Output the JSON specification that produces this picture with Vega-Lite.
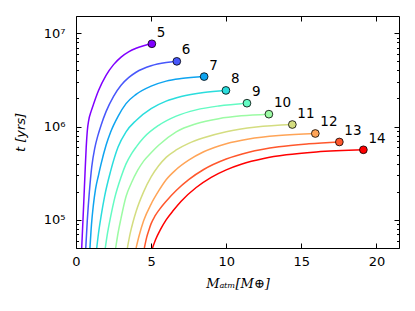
{
  "$schema": "https://vega.github.io/schema/vega-lite/v6.json",
  "width": 323,
  "height": 232,
  "autosize": "none",
  "padding": {"left": 76, "top": 16, "right": 16, "bottom": 63},
  "config": {
    "font": "DejaVu Sans",
    "view": {"stroke": "black", "strokeWidth": 1},
    "axis": {"grid": false, "domain": false, "tickColor": "black", "labelColor": "black", "titleColor": "black", "labelFontSize": 13, "labelFont": "DejaVu Sans"}
  },
  "datasets": {
    "curves": [
      {"curve": 5, "M": 0.38, "t": 50000}, {"curve": 5, "M": 0.45, "t": 89100}, {"curve": 5, "M": 0.52, "t": 158500}, {"curve": 5, "M": 0.6, "t": 316200}, {"curve": 5, "M": 0.68, "t": 602600}, {"curve": 5, "M": 0.75, "t": 891300}, {"curve": 5, "M": 0.85, "t": 1175000}, {"curve": 5, "M": 1.0, "t": 1445000}, {"curve": 5, "M": 1.2, "t": 1800000}, {"curve": 5, "M": 1.5, "t": 2430000}, {"curve": 5, "M": 2.0, "t": 3540000}, {"curve": 5, "M": 2.5, "t": 4610000}, {"curve": 5, "M": 3.0, "t": 5550000}, {"curve": 5, "M": 3.5, "t": 6310000}, {"curve": 5, "M": 4.0, "t": 6900000}, {"curve": 5, "M": 4.5, "t": 7350000}, {"curve": 5, "M": 5.05, "t": 7710000},
      {"curve": 6, "M": 0.65, "t": 50000}, {"curve": 6, "M": 0.75, "t": 97700}, {"curve": 6, "M": 0.89, "t": 200000}, {"curve": 6, "M": 1.05, "t": 372000}, {"curve": 6, "M": 1.25, "t": 589000}, {"curve": 6, "M": 1.45, "t": 794000}, {"curve": 6, "M": 1.67, "t": 1035000}, {"curve": 6, "M": 2.0, "t": 1445000}, {"curve": 6, "M": 2.5, "t": 2110000}, {"curve": 6, "M": 3.0, "t": 2770000}, {"curve": 6, "M": 3.5, "t": 3340000}, {"curve": 6, "M": 4.0, "t": 3820000}, {"curve": 6, "M": 5.0, "t": 4480000}, {"curve": 6, "M": 6.0, "t": 4850000}, {"curve": 6, "M": 6.71, "t": 5000000},
      {"curve": 7, "M": 0.93, "t": 50000}, {"curve": 7, "M": 1.03, "t": 89100}, {"curve": 7, "M": 1.15, "t": 141300}, {"curve": 7, "M": 1.3, "t": 213800}, {"curve": 7, "M": 1.5, "t": 302000}, {"curve": 7, "M": 1.67, "t": 398000}, {"curve": 7, "M": 2.0, "t": 631000}, {"curve": 7, "M": 2.3, "t": 871000}, {"curve": 7, "M": 2.8, "t": 1288000}, {"curve": 7, "M": 3.33, "t": 1762000}, {"curve": 7, "M": 4.0, "t": 2213000}, {"curve": 7, "M": 5.0, "t": 2710000}, {"curve": 7, "M": 6.0, "t": 3070000}, {"curve": 7, "M": 7.0, "t": 3270000}, {"curve": 7, "M": 8.53, "t": 3430000},
      {"curve": 8, "M": 1.38, "t": 50000}, {"curve": 8, "M": 1.5, "t": 72400}, {"curve": 8, "M": 1.67, "t": 109600}, {"curve": 8, "M": 1.9, "t": 177800}, {"curve": 8, "M": 2.3, "t": 331000}, {"curve": 8, "M": 2.8, "t": 603000}, {"curve": 8, "M": 3.33, "t": 879000}, {"curve": 8, "M": 4.0, "t": 1164000}, {"curve": 8, "M": 5.0, "t": 1556000}, {"curve": 8, "M": 6.0, "t": 1871000}, {"curve": 8, "M": 7.0, "t": 2100000}, {"curve": 8, "M": 8.5, "t": 2320000}, {"curve": 8, "M": 9.98, "t": 2440000},
      {"curve": 9, "M": 1.95, "t": 50000}, {"curve": 9, "M": 2.1, "t": 72400}, {"curve": 9, "M": 2.3, "t": 107200}, {"curve": 9, "M": 2.6, "t": 177800}, {"curve": 9, "M": 3.0, "t": 288400}, {"curve": 9, "M": 3.33, "t": 398000}, {"curve": 9, "M": 3.7, "t": 513000}, {"curve": 9, "M": 4.0, "t": 603000}, {"curve": 9, "M": 4.5, "t": 759000}, {"curve": 9, "M": 5.5, "t": 1030000}, {"curve": 9, "M": 6.67, "t": 1294000}, {"curve": 9, "M": 8.0, "t": 1510000}, {"curve": 9, "M": 9.5, "t": 1663000}, {"curve": 9, "M": 11.38, "t": 1780000},
      {"curve": 10, "M": 2.64, "t": 50000}, {"curve": 10, "M": 2.8, "t": 72400}, {"curve": 10, "M": 3.0, "t": 104700}, {"curve": 10, "M": 3.33, "t": 177800}, {"curve": 10, "M": 3.7, "t": 251200}, {"curve": 10, "M": 4.1, "t": 338800}, {"curve": 10, "M": 4.5, "t": 426600}, {"curve": 10, "M": 5.0, "t": 524800}, {"curve": 10, "M": 5.5, "t": 631000}, {"curve": 10, "M": 6.67, "t": 879000}, {"curve": 10, "M": 8.0, "t": 1072000}, {"curve": 10, "M": 9.5, "t": 1216000}, {"curve": 10, "M": 11.0, "t": 1303000}, {"curve": 10, "M": 12.84, "t": 1358000},
      {"curve": 11, "M": 3.42, "t": 50000}, {"curve": 11, "M": 3.6, "t": 70800}, {"curve": 11, "M": 3.8, "t": 95500}, {"curve": 11, "M": 4.0, "t": 123000}, {"curve": 11, "M": 4.5, "t": 199500}, {"curve": 11, "M": 5.0, "t": 288400}, {"curve": 11, "M": 5.5, "t": 380000}, {"curve": 11, "M": 6.0, "t": 468000}, {"curve": 11, "M": 6.67, "t": 562000}, {"curve": 11, "M": 7.5, "t": 661000}, {"curve": 11, "M": 8.5, "t": 759000}, {"curve": 11, "M": 10.0, "t": 881000}, {"curve": 11, "M": 12.0, "t": 989000}, {"curve": 11, "M": 14.4, "t": 1052000},
      {"curve": 12, "M": 4.0, "t": 50000}, {"curve": 12, "M": 4.2, "t": 67600}, {"curve": 12, "M": 4.5, "t": 97700}, {"curve": 12, "M": 5.0, "t": 147900}, {"curve": 12, "M": 5.5, "t": 204200}, {"curve": 12, "M": 6.0, "t": 269200}, {"curve": 12, "M": 6.67, "t": 346700}, {"curve": 12, "M": 7.5, "t": 436500}, {"curve": 12, "M": 8.5, "t": 537000}, {"curve": 12, "M": 10.0, "t": 656000}, {"curve": 12, "M": 11.5, "t": 738000}, {"curve": 12, "M": 13.5, "t": 804000}, {"curve": 12, "M": 15.93, "t": 843000},
      {"curve": 13, "M": 4.55, "t": 50000}, {"curve": 13, "M": 4.7, "t": 64600}, {"curve": 13, "M": 4.85, "t": 77600}, {"curve": 13, "M": 5.0, "t": 91200}, {"curve": 13, "M": 5.25, "t": 109600}, {"curve": 13, "M": 5.5, "t": 125900}, {"curve": 13, "M": 6.0, "t": 158500}, {"curve": 13, "M": 6.67, "t": 206500}, {"curve": 13, "M": 7.5, "t": 270000}, {"curve": 13, "M": 8.5, "t": 346700}, {"curve": 13, "M": 10.0, "t": 449000}, {"curve": 13, "M": 11.5, "t": 531000}, {"curve": 13, "M": 13.5, "t": 607000}, {"curve": 13, "M": 15.5, "t": 653000}, {"curve": 13, "M": 17.53, "t": 684000},
      {"curve": 14, "M": 5.09, "t": 50000}, {"curve": 14, "M": 5.3, "t": 61700}, {"curve": 14, "M": 5.6, "t": 77600}, {"curve": 14, "M": 6.0, "t": 100000}, {"curve": 14, "M": 6.5, "t": 127400}, {"curve": 14, "M": 7.0, "t": 158500}, {"curve": 14, "M": 8.0, "t": 222300}, {"curve": 14, "M": 9.0, "t": 285800}, {"curve": 14, "M": 10.0, "t": 344000}, {"curve": 14, "M": 11.0, "t": 395000}, {"curve": 14, "M": 12.5, "t": 455000}, {"curve": 14, "M": 14.0, "t": 498000}, {"curve": 14, "M": 16.0, "t": 535000}, {"curve": 14, "M": 19.13, "t": 564000}
    ],
    "ends": [
      {"curve": 5, "M": 5.05, "t": 7710000},
      {"curve": 6, "M": 6.71, "t": 5000000},
      {"curve": 7, "M": 8.53, "t": 3430000},
      {"curve": 8, "M": 9.98, "t": 2440000},
      {"curve": 9, "M": 11.38, "t": 1780000},
      {"curve": 10, "M": 12.84, "t": 1358000},
      {"curve": 11, "M": 14.4, "t": 1052000},
      {"curve": 12, "M": 15.93, "t": 843000},
      {"curve": 13, "M": 17.53, "t": 684000},
      {"curve": 14, "M": 19.13, "t": 564000}
    ]
  },
  "layer": [
    {
      "data": {"name": "curves"},
      "mark": {"type": "line", "interpolate": "monotone", "strokeWidth": 1.5, "clip": true},
      "encoding": {
        "x": {"field": "M", "type": "quantitative", "scale": {"domain": [0, 21.5], "nice": false, "zero": false},
          "axis": {"orient": "bottom", "values": [0, 5, 10, 15, 20], "tickSize": -5, "labelPadding": 12, "labelFlush": false,
            "title": "Mₐₜₘ[M⊕]", "titleFont": "DejaVu Serif", "titleFontStyle": "italic", "titleFontWeight": "normal", "titleFontSize": 13, "titlePadding": 9}},
        "y": {"field": "t", "type": "quantitative", "scale": {"type": "log", "domain": [50000, 15300000], "nice": false},
          "axis": {"orient": "left",
            "values": [50000, 60000, 70000, 80000, 90000, 100000, 200000, 300000, 400000, 500000, 600000, 700000, 800000, 900000, 1000000, 2000000, 3000000, 4000000, 5000000, 6000000, 7000000, 8000000, 9000000, 10000000],
            "tickSize": {"condition": {"test": "datum.value == 100000 || datum.value == 1000000 || datum.value == 10000000", "value": -5}, "value": -2.5},
            "labelExpr": "datum.value == 100000 ? '10⁵' : datum.value == 1000000 ? '10⁶' : datum.value == 10000000 ? '10⁷' : ''",
            "labelPadding": 16, "labelFontSize": 13,
            "title": "t [yrs]", "titleFont": "DejaVu Sans", "titleFontStyle": "italic", "titleFontWeight": "normal", "titleFontSize": 13, "titlePadding": 16}},
        "color": {"field": "curve", "type": "ordinal",
          "scale": {"domain": [5, 6, 7, 8, 9, 10, 11, 12, 13, 14], "range": ["#8000ff", "#4757fb", "#0ea4f0", "#2adddd", "#63fbc3", "#9cfba4", "#d4dd80", "#ffa457", "#ff572c", "#ff0000"]},
          "legend": null}
      }
    },
    {
      "data": {"name": "ends"},
      "mark": {"type": "circle", "size": 60, "stroke": "black", "strokeWidth": 0.8, "opacity": 1},
      "encoding": {
        "x": {"field": "M", "type": "quantitative", "scale": {"domain": [0, 21.5], "nice": false, "zero": false},
          "axis": {"orient": "top", "values": [0, 5, 10, 15, 20], "tickSize": -5, "labels": false, "title": null}},
        "y": {"field": "t", "type": "quantitative", "scale": {"type": "log", "domain": [50000, 15300000], "nice": false},
          "axis": {"orient": "right",
            "values": [50000, 60000, 70000, 80000, 90000, 100000, 200000, 300000, 400000, 500000, 600000, 700000, 800000, 900000, 1000000, 2000000, 3000000, 4000000, 5000000, 6000000, 7000000, 8000000, 9000000, 10000000],
            "tickSize": {"condition": {"test": "datum.value == 100000 || datum.value == 1000000 || datum.value == 10000000", "value": -5}, "value": -2.5},
            "labels": false, "title": null}},
        "color": {"field": "curve", "type": "ordinal",
          "scale": {"domain": [5, 6, 7, 8, 9, 10, 11, 12, 13, 14], "range": ["#8000ff", "#4757fb", "#0ea4f0", "#2adddd", "#63fbc3", "#9cfba4", "#d4dd80", "#ffa457", "#ff572c", "#ff0000"]},
          "legend": null}
      }
    },
    {
      "data": {"name": "ends"},
      "mark": {"type": "text", "align": "left", "baseline": "alphabetic", "dx": 5, "dy": -7, "fontSize": 13.5, "color": "black"},
      "encoding": {
        "x": {"field": "M", "type": "quantitative", "axis": null},
        "y": {"field": "t", "type": "quantitative", "axis": null},
        "text": {"field": "curve", "type": "nominal"}
      }
    }
  ],
  "resolve": {"axis": {"x": "independent", "y": "independent"}}
}
